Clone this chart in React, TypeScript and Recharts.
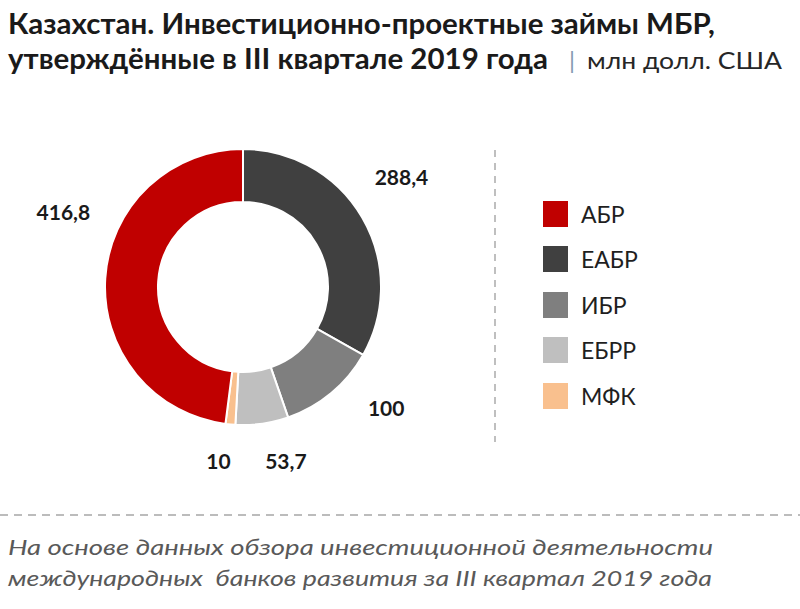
import React from 'react';
import { PieChart, Pie, Cell, Legend } from 'recharts';

const categories = ['ЕАБР', 'ИБР', 'ЕБРР', 'МФК', 'АБР'];
const values = [288.4, 100, 53.7, 10, 416.8];
const colors = ['#404040', '#7F7F7F', '#BFBFBF', '#F9C08E', '#C00000'];
const legendOrder = ['АБР', 'ЕАБР', 'ИБР', 'ЕБРР', 'МФК'];
const titleLine1 = 'Казахстан. Инвестиционно-проектные займы МБР,';
const titleLine2 = 'утверждённые в III квартале 2019 года';
const unitText = 'млн долл. США';
const footLine1 = 'На основе данных обзора инвестиционной деятельности';
const footLine2 = 'международных  банков развития за III квартал 2019 года';

const data = categories.map((name, i) => ({ name, value: values[i], color: colors[i] }));

const labelNudge: [number, number][] = [[3, -20], [28, -18], [18, -5], [-8, -6], [0, -64]];
const RAD = Math.PI / 180;
const fmt = (v: number) => String(v).replace('.', ',');

const renderLabel = (p: any) => {
  const { cx, cy, midAngle, index, value } = p;
  const r = 180;
  const x = cx + r * Math.cos(-midAngle * RAD) + labelNudge[index][0];
  const y = cy + r * Math.sin(-midAngle * RAD) + labelNudge[index][1];
  return (
    <text x={x} y={y} textAnchor="middle" dominantBaseline="central"
      fontFamily="Lato, 'Open Sans', sans-serif" fontWeight={700} fontSize={21} fill="#1a1a1a">
      {fmt(value)}
    </text>
  );
};

const renderLegend = (props: any) => {
  const payload = props.payload || [];
  const items = legendOrder.map((n) => payload.find((p: any) => p.value === n)).filter(Boolean);
  return (
    <div style={{ fontFamily: 'Lato, sans-serif', fontSize: 23, color: '#1f1f1f' }}>
      {items.map((it: any, i: number) => (
        <div key={i} style={{ display: 'flex', alignItems: 'center', height: 45.5 }}>
          <div style={{ width: 25, height: 26, background: it.color, marginRight: 13 }} />
          <span>{it.value}</span>
        </div>
      ))}
    </div>
  );
};

export default function App() {
  return (
    <div style={{ position: 'absolute', left: 0, top: 0, width: 800, height: 609, background: '#fff' }}>
      <PieChart width={800} height={609} margin={{ top: 0, right: 0, bottom: 0, left: 0 }}>
        <Pie data={data} dataKey="value" nameKey="name" cx={243} cy={287}
          innerRadius={85} outerRadius={138} startAngle={90} endAngle={-270}
          stroke="#ffffff" strokeWidth={2} label={renderLabel} labelLine={false}
          isAnimationActive={false}>
          {data.map((d, i) => <Cell key={i} fill={d.color} />)}
        </Pie>
        <Legend content={renderLegend} layout="vertical"
          wrapperStyle={{ position: 'absolute', left: 543, top: 191, width: 200 }} />
      </PieChart>
      <svg width={800} height={609} style={{ position: 'absolute', left: 0, top: 0, pointerEvents: 'none' }}>
        <text x={8} y={34} fontFamily="Lato, sans-serif" fontWeight={700} fontSize={28} fill="#1a1a1a"
          textLength={707} lengthAdjust="spacingAndGlyphs">{titleLine1}</text>
        <text x={8} y={69} fontFamily="Lato, sans-serif" fontWeight={700} fontSize={28} fill="#1a1a1a"
          textLength={540} lengthAdjust="spacingAndGlyphs">{titleLine2}</text>
        <text x={569} y={69} fontFamily="Lato, sans-serif" fontSize={24} fill="#8497B0">|</text>
        <text x={587} y={69} fontFamily="Lato, sans-serif" fontSize={23} fill="#262626"
          textLength={195} lengthAdjust="spacingAndGlyphs">{unitText}</text>
        <line x1={495} y1={150} x2={495} y2={442} stroke="#BFBFBF" strokeWidth={2} strokeDasharray="7 6" />
        <line x1={0} y1={515} x2={800} y2={515} stroke="#A6A6A6" strokeWidth={1.5} strokeDasharray="8 6" />
        <text x={8} y={555} fontFamily="Lato, sans-serif" fontStyle="italic" fontSize={22} fill="#595959"
          textLength={705} lengthAdjust="spacingAndGlyphs">{footLine1}</text>
        <text x={8} y={586} fontFamily="Lato, sans-serif" fontStyle="italic" fontSize={22} fill="#595959"
          textLength={704} lengthAdjust="spacingAndGlyphs" style={{ whiteSpace: 'pre' }}>{footLine2}</text>
      </svg>
    </div>
  );
}
